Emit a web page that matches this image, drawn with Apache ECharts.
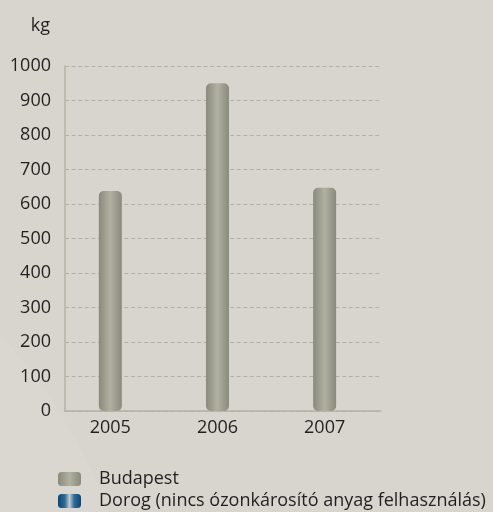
<!DOCTYPE html>
<html>
<head>
<meta charset="utf-8">
<script src="https://cdn.jsdelivr.net/npm/echarts@6/dist/echarts.min.js"></script>
<style>
  html, body { margin: 0; padding: 0; background: #d8d5ce; }
  #chart { width: 493px; height: 512px; }
</style>
</head>
<body>
<div id="chart"></div>
<script>
  // adatok
  const years = [2005, 2006, 2007];
  const budapest = [638, 950, 647];
  const seriesNames = ['Budapest', 'Dorog (nincs ózonkárosító anyag felhasználás)'];
  const yTicks = { min: 0, max: 1000, interval: 100 };

  const chart = echarts.init(document.getElementById('chart'));

  // szürke oszlop színátmenet
  const greyBar = new echarts.graphic.LinearGradient(0, 0, 1, 0, [
    { offset: 0, color: '#898a7b' },
    { offset: 0.5, color: '#b1b1a2' },
    { offset: 1, color: '#898a7b' }
  ]);
  // kék (Dorog) színátmenet
  const blueBar = new echarts.graphic.LinearGradient(0, 0, 1, 0, [
    { offset: 0, color: '#0b4677' },
    { offset: 0.3, color: '#2b6c98' },
    { offset: 0.5, color: '#c3cbce' },
    { offset: 0.7, color: '#2b6c98' },
    { offset: 1, color: '#0b4677' }
  ]);

  const option = {
    backgroundColor: '#d8d5ce',
    textStyle: { fontFamily: 'Open Sans' },
    graphic: [
      {
        type: 'circle',
        silent: true,
        z: -10,
        shape: { cx: -400, cy: 700, r: 542 },
        style: { fill: '#dad7d1' }
      }
    ],
    legend: {
      orient: 'vertical',
      left: 53,
      top: 465,
      height: 60,
      itemWidth: 23,
      itemHeight: 14,
      itemGap: 4,
      icon: 'roundRect',
      selectedMode: false,
      textStyle: {
        fontSize: 18, lineHeight: 16, color: '#231f20',
        padding: [0, 0, 0, 13]
      },
      data: seriesNames
    },
    grid: { left: 65, top: 66, right: 112, bottom: 101 },
    xAxis: {
      type: 'value',
      min: 2004.577,
      max: 2007.526,
      axisLine: { show: true, lineStyle: { color: '#b3b4a4', width: 1.5 } },
      axisTick: { show: false },
      splitLine: { show: false },
      axisLabel: {
        customValues: years,
        fontSize: 18,
        color: '#231f20',
        margin: 8,
        formatter: v => String(v)
      }
    },
    yAxis: {
      type: 'value',
      min: yTicks.min,
      max: yTicks.max,
      interval: yTicks.interval,
      name: 'kg',
      nameLocation: 'end',
      nameGap: 40,
      nameTextStyle: {
        fontSize: 18, color: '#231f20', align: 'right',
        verticalAlign: 'middle', padding: [0, 15, 0, 0]
      },
      axisLine: { show: true, lineStyle: { color: '#b3b4a4', width: 1.5 } },
      axisTick: { show: false },
      axisLabel: { fontSize: 18, color: '#231f20', margin: 14, formatter: v => String(v) },
      splitLine: {
        show: true,
        lineStyle: { color: '#b3b1a5', type: [4, 2.6], width: 1.2 }
      }
    },
    series: [
      {
        name: seriesNames[0],
        type: 'bar',
        barWidth: 23,
        barGap: '-100%',
        itemStyle: { color: greyBar, borderRadius: 5 },
        data: years.map((y, i) => [y, budapest[i]])
      },
      {
        name: seriesNames[1],
        type: 'bar',
        barWidth: 23,
        barGap: '-100%',
        itemStyle: { color: blueBar, borderRadius: 5 },
        data: []
      }
    ]
  };

  chart.setOption(option);
</script>
</body>
</html>
